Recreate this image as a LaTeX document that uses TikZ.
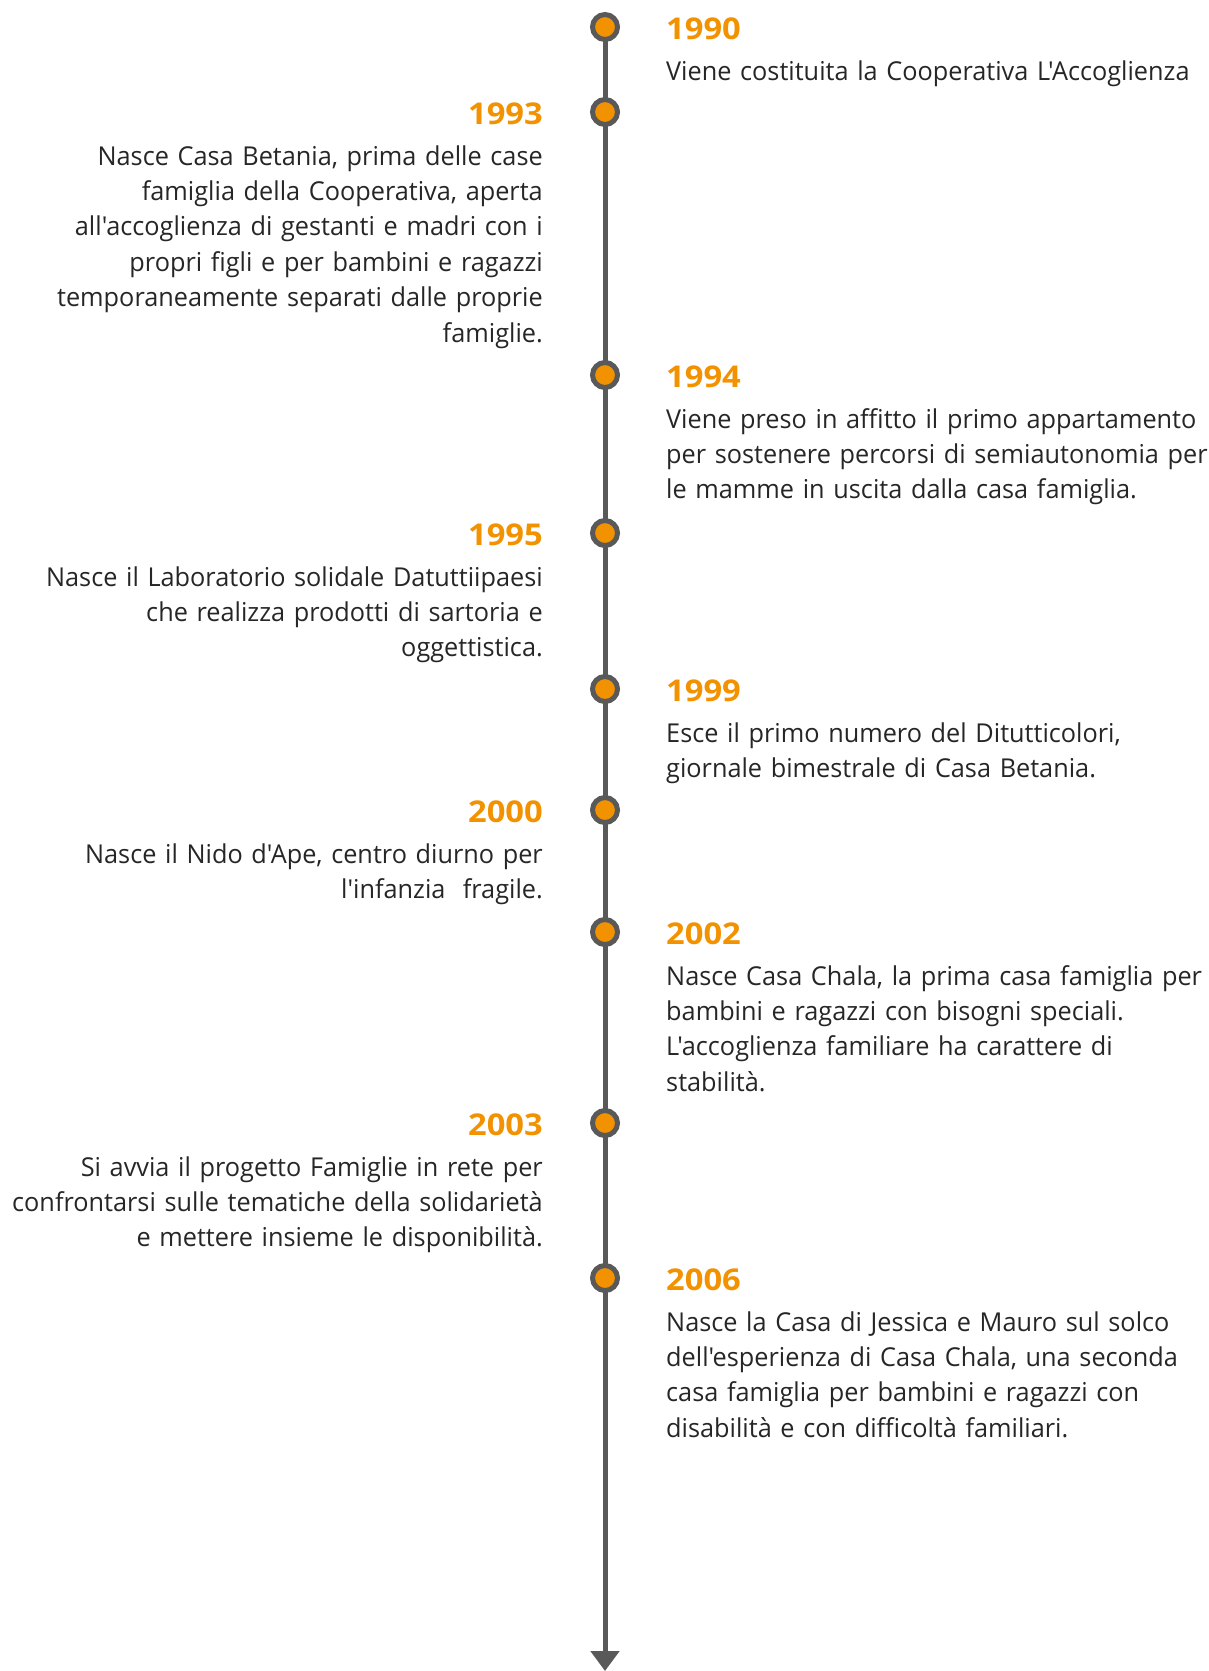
\documentclass[tikz,border=0pt]{standalone}
\usepackage{fontspec}
\newfontfamily\bodyfont[FakeStretch=0.972]{Open Sans}
\newfontfamily\yearfont[FakeStretch=1.09]{Open Sans}
\usetikzlibrary{arrows.meta,backgrounds}
\definecolor{tlorange}{RGB}{243,146,0}
\definecolor{tlgray}{RGB}{89,89,89}
\definecolor{tltext}{RGB}{38,38,38}
\tikzset{
  dot/.style={circle,draw=tlgray,fill=tlorange,line width=5pt,minimum size=25pt,inner sep=0pt},
  spine/.style={draw=tlgray,line width=5pt,-{Triangle[width=28pt,length=20pt]}},
  yearR/.style={anchor=base west,inner sep=0pt,text=tlorange,font=\yearfont\bfseries\fontsize{30}{36}\selectfont},
  yearL/.style={anchor=base east,inner sep=0pt,text=tlorange,font=\yearfont\bfseries\fontsize{30}{36}\selectfont},
  descR/.style={anchor=base west,inner sep=0pt,text width=560pt,align=left,text=tltext,font=\bodyfont\fontsize{26}{35.4}\selectfont},
  descL/.style={anchor=base east,inner sep=0pt,text width=600pt,align=right,text=tltext,font=\bodyfont\fontsize{26}{35.4}\selectfont},
}
\begin{document}
\begin{tikzpicture}[x=1pt,y=-1pt]
\useasboundingbox (0,0) rectangle (1209,1671);
\def\xl{605}
\def\xR{666}
\def\xL{543}
% dots
\node[dot] (d1) at (\xl,27) {};
\node[dot] (d2) at (\xl,112) {};
\node[dot] (d3) at (\xl,375) {};
\node[dot] (d4) at (\xl,533) {};
\node[dot] (d5) at (\xl,689) {};
\node[dot] (d6) at (\xl,810) {};
\node[dot] (d7) at (\xl,932) {};
\node[dot] (d8) at (\xl,1123) {};
\node[dot] (d9) at (\xl,1278) {};
\coordinate (tip) at (\xl,1671);
\begin{scope}[on background layer]
\draw[spine] (d1.center) -- (tip);
\end{scope}
% 1990
\node[yearR] (y1) at (\xR,27+12) {1990};
\node[descR] (t1) at (\xR,27+53) {Viene costituita la Cooperativa L'Accoglienza};
% 1993
\node[yearL] (y2) at (\xL,112+12) {1993};
\node[descL] (t2) at (\xL,112+53) {Nasce Casa Betania, prima delle case\\famiglia della Cooperativa, aperta\\all'accoglienza di gestanti e madri con i\\propri figli e per bambini e ragazzi\\temporaneamente separati dalle proprie\\famiglie.};
% 1994
\node[yearR] (y3) at (\xR,375+12) {1994};
\node[descR] (t3) at (\xR,375+53) {Viene preso in affitto il primo appartamento\\per sostenere percorsi di semiautonomia per\\le mamme in uscita dalla casa famiglia.};
% 1995
\node[yearL] (y4) at (\xL,533+12) {1995};
\node[descL] (t4) at (\xL,533+53) {Nasce il Laboratorio solidale Datuttiipaesi\\che realizza prodotti di sartoria e\\oggettistica.};
% 1999
\node[yearR] (y5) at (\xR,689+12) {1999};
\node[descR] (t5) at (\xR,689+53) {Esce il primo numero del Ditutticolori,\\giornale bimestrale di Casa Betania.};
% 2000
\node[yearL] (y6) at (\xL,810+12) {2000};
\node[descL] (t6) at (\xL,810+53) {Nasce il Nido d'Ape, centro diurno per\\l'infanzia\ \ fragile.};
% 2002
\node[yearR] (y7) at (\xR,932+12) {2002};
\node[descR] (t7) at (\xR,932+53) {Nasce Casa Chala, la prima casa famiglia per\\bambini e ragazzi con bisogni speciali.\\L'accoglienza familiare ha carattere di\\stabilità.};
% 2003
\node[yearL] (y8) at (\xL,1123+12) {2003};
\node[descL] (t8) at (\xL,1123+53) {Si avvia il progetto Famiglie in rete per\\confrontarsi sulle tematiche della solidarietà\\e mettere insieme le disponibilità.};
% 2006
\node[yearR] (y9) at (\xR,1278+12) {2006};
\node[descR] (t9) at (\xR,1278+53) {Nasce la Casa di Jessica e Mauro sul solco\\dell'esperienza di Casa Chala, una seconda\\casa famiglia per bambini e ragazzi con\\disabilità e con difficoltà familiari.};
\end{tikzpicture}
\end{document}
